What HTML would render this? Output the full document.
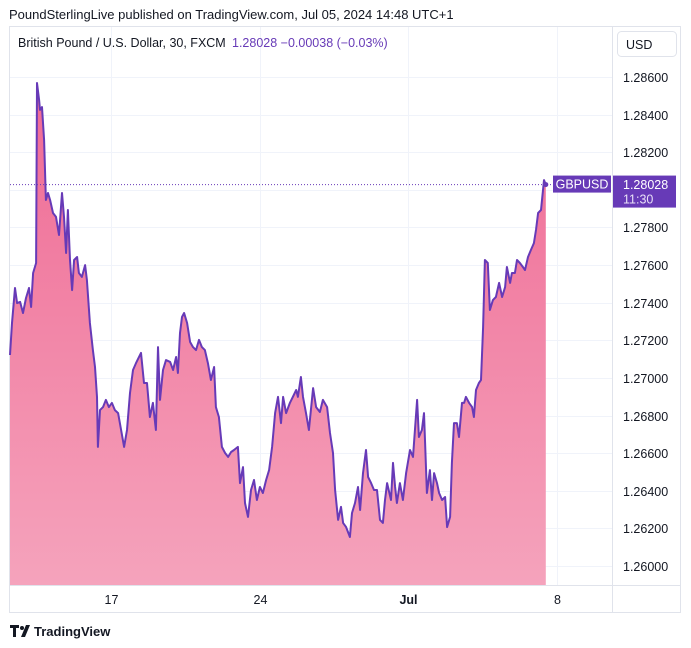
<!DOCTYPE html>
<html><head><meta charset="utf-8"><style>
body{margin:0;background:#fff;width:691px;height:648px;overflow:hidden;font-family:"Liberation Sans",sans-serif;}
svg{position:absolute;left:0;top:0}
</style></head><body>
<svg id="chart" width="691" height="648" xmlns="http://www.w3.org/2000/svg">
<defs><linearGradient id="fillg" x1="0" y1="0" x2="0" y2="1">
<stop offset="0" stop-color="#ef6a94"/><stop offset="1" stop-color="#f5a3bc"/></linearGradient></defs>
<text x="9" y="19" font-size="13" fill="#131722">PoundSterlingLive published on TradingView.com, Jul 05, 2024 14:48 UTC+1</text>
<rect x="9.5" y="26.5" width="671" height="586" fill="none" stroke="#e0e3eb"/>
<g id="grid"></g>
<path id="area" fill="url(#fillg)"/>
<line id="pline" x1="10" x2="552" stroke="#673ab7" stroke-dasharray="1 2"/>
<path id="line" fill="none" stroke="#673ab7" stroke-width="2" stroke-linejoin="round"/>
<line x1="612.5" y1="27" x2="612.5" y2="612" stroke="#e0e3eb"/>
<line x1="10" y1="585.5" x2="680" y2="585.5" stroke="#e0e3eb"/>
<g id="yaxis"></g><g id="xaxis"></g>
<text x="18" y="47" font-size="12.5" fill="#131722">British Pound / U.S. Dollar, 30, FXCM</text>
<text x="232" y="47" font-size="12.5" fill="#673ab7">1.28028  −0.00038 (−0.03%)</text>
<rect x="617.5" y="31.5" width="59" height="25" rx="4" fill="#fff" stroke="#e0e3eb"/>
<text x="626" y="49" font-size="12.5" fill="#131722">USD</text>
<g id="tags"></g>
<g>
<path d="M10 625h9v3h-3v9h-3v-9h-3z M21 637l5-12h4l-5 12z" fill="#131722"/>
<circle cx="22" cy="628" r="2" fill="#131722"/>
<text x="34" y="636" font-size="13" font-weight="bold" fill="#131722">TradingView</text>
</g>
</svg>
<script>
// trading days relative to Jun 17 00:00
const days=[-3.40,-3.33,-3.23,-3.16,-3.06,-2.96,-2.86,-2.76,-2.69,-2.62,-2.52,-2.49,-2.42,-2.39,-2.32,-2.25,-2.19,-2.12,-2.05,-1.95,-1.85,-1.75,-1.65,-1.58,-1.51,-1.45,-1.38,-1.31,-1.24,-1.14,-1.08,-0.98,-0.87,-0.81,-0.71,-0.61,-0.54,-0.47,-0.44,-0.37,-0.27,-0.17,-0.07,0.03,0.13,0.24,0.34,0.44,0.54,0.64,0.74,0.84,1.01,1.11,1.21,1.31,1.41,1.51,1.58,1.65,1.75,1.85,1.99,2.09,2.19,2.25,2.32,2.39,2.46,2.56,2.66,2.76,2.86,2.96,3.06,3.16,3.26,3.36,3.47,3.53,3.63,3.73,3.84,3.94,4.04,4.14,4.27,4.34,4.44,4.51,4.61,4.71,4.81,4.91,5.01,5.11,5.22,5.32,5.42,5.52,5.62,5.72,5.79,5.89,6.02,6.23,6.29,6.39,6.46,6.56,6.66,6.80,6.90,7.03,7.13,7.27,7.37,7.47,7.54,7.64,7.74,7.81,7.91,8.04,8.11,8.21,8.31,8.38,8.48,8.58,8.65,8.75,8.85,8.95,9.05,9.15,9.22,9.29,9.42,9.49,9.56,9.62,9.72,9.82,9.93,10.06,10.16,10.30,10.36,10.46,10.53,10.57,10.63,10.73,10.80,10.87,10.97,11.04,11.14,11.24,11.31,11.41,11.47,11.54,11.64,11.71,11.81,11.88,11.94,12.05,12.15,12.21,12.28,12.38,12.45,12.52,12.58,12.68,12.75,12.85,12.95,13.06,13.16,13.26,13.32,13.43,13.49,13.59,13.66,13.76,13.86,13.93,14.03,14.13,14.23,14.30,14.37,14.47,14.57,14.63];
const prices=[1.27122,1.27292,1.27478,1.27398,1.27404,1.27345,1.27425,1.27478,1.27377,1.27558,1.27611,1.28568,1.28478,1.28425,1.2844,1.28265,1.27946,1.27983,1.27946,1.27877,1.27856,1.2776,1.27983,1.27856,1.27664,1.27893,1.27627,1.27467,1.27627,1.27643,1.27558,1.27537,1.276,1.27521,1.27292,1.27148,1.27058,1.26899,1.26633,1.26829,1.26845,1.26883,1.26845,1.26867,1.26829,1.26813,1.26723,1.26633,1.26723,1.2692,1.27042,1.27079,1.27133,1.26973,1.26973,1.26792,1.26867,1.26723,1.27164,1.26883,1.27042,1.27095,1.27085,1.27042,1.27111,1.27026,1.27239,1.27324,1.27345,1.27292,1.27191,1.27164,1.27148,1.27202,1.27164,1.27148,1.27079,1.26989,1.27058,1.26845,1.26792,1.26633,1.26601,1.2658,1.26606,1.26617,1.26633,1.26441,1.26526,1.26335,1.26261,1.26404,1.26457,1.26351,1.2642,1.26388,1.26457,1.2651,1.26633,1.26813,1.26899,1.2676,1.26899,1.26813,1.26867,1.26936,1.26899,1.27005,1.26899,1.26813,1.26723,1.26946,1.26845,1.26819,1.26883,1.26845,1.26707,1.26601,1.26404,1.26245,1.26314,1.26229,1.26207,1.26154,1.26282,1.26335,1.2642,1.26298,1.26494,1.26617,1.26473,1.26441,1.26404,1.26404,1.26245,1.26229,1.26351,1.26441,1.26351,1.26548,1.2642,1.26335,1.26441,1.26351,1.26494,1.26617,1.2658,1.26883,1.26686,1.26723,1.26813,1.26654,1.26388,1.2651,1.26351,1.26494,1.26441,1.26388,1.26351,1.26367,1.26207,1.26261,1.26548,1.2676,1.2676,1.26686,1.26867,1.26867,1.26899,1.26867,1.26845,1.26792,1.26936,1.26973,1.26989,1.27271,1.27627,1.27611,1.27361,1.27414,1.2743,1.27505,1.2743,1.27483,1.2759,1.27505,1.27558,1.27558,1.27627,1.27611,1.2759,1.27574,1.27643,1.2768,1.27717,1.27787,1.27877,1.27893,1.28052,1.28028];
const yTicks=[1.286,1.284,1.282,1.280,1.278,1.276,1.274,1.272,1.270,1.268,1.266,1.264,1.262,1.260];
const xTickDays=[0,5,10,15];
const xTickLabels=["17","24","Jul","8"];
const lastPrice=1.28028, lastTime="11:30", symbol="GBPUSD";

const X=d=>111+d*29.72;
const Y=p=>566-(p-1.26)*18807.7;
const NS="http://www.w3.org/2000/svg";
function mk(tag,attrs,parent,txt){const e=document.createElementNS(NS,tag);for(const k in attrs)e.setAttribute(k,attrs[k]);if(txt!=null)e.textContent=txt;document.getElementById(parent).appendChild(e);return e;}
yTicks.forEach(t=>{
  const y=Math.round(Y(t))+0.5;
  const g=mk('line',{x1:10,x2:612,y1:y,y2:y,stroke:'#f0f3fa'},'grid');
  
  
  const l=mk('text',{x:623,y:y+4.5,'font-size':12.5,fill:'#131722'},'yaxis',t.toFixed(5));
  
  
});
xTickDays.forEach((d,i)=>{
  const x=Math.round(X(d))+0.5;
  const g=mk('line',{x1:x,x2:x,y1:27,y2:585,stroke:'#f0f3fa'},'grid');
  
  
  const l=mk('text',{x:x,y:604,'font-size':12.5,fill:'#131722','text-anchor':'middle','font-weight':xTickLabels[i]==='Jul'?'bold':'normal'},'xaxis',xTickLabels[i]);
  
  
});
let d='';
days.forEach((v,i)=>{d+=(i?'L':'M')+X(v).toFixed(1)+' '+Y(prices[i]).toFixed(1);});
document.getElementById('line').setAttribute('d',d);
document.getElementById('area').setAttribute('d',d+'L'+X(days[days.length-1]).toFixed(1)+' 585L'+X(days[0]).toFixed(1)+' 585Z');
const py=Y(lastPrice);
const pl=document.getElementById('pline');pl.setAttribute('y1',py);pl.setAttribute('y2',py);
const dot=mk('circle',{cx:X(days[days.length-1]),cy:py,r:2.5,fill:'#673ab7'},'tags');


const sb=mk('rect',{x:553,y:py-9,width:58,height:17,fill:'#673ab7'},'tags');


const st=mk('text',{x:582,y:py+4,'font-size':12.5,fill:'#fff','text-anchor':'middle'},'tags',symbol);


const pb=mk('rect',{x:613,y:py-9,width:63,height:32,fill:'#673ab7'},'tags');


const pt=mk('text',{x:623,y:py+4.5,'font-size':12.5,fill:'#fff'},'tags',lastPrice.toFixed(5));


const tt=mk('text',{x:623,y:py+19,'font-size':12.5,fill:'#e8e0f7'},'tags',lastTime);


</script>
</body></html>
